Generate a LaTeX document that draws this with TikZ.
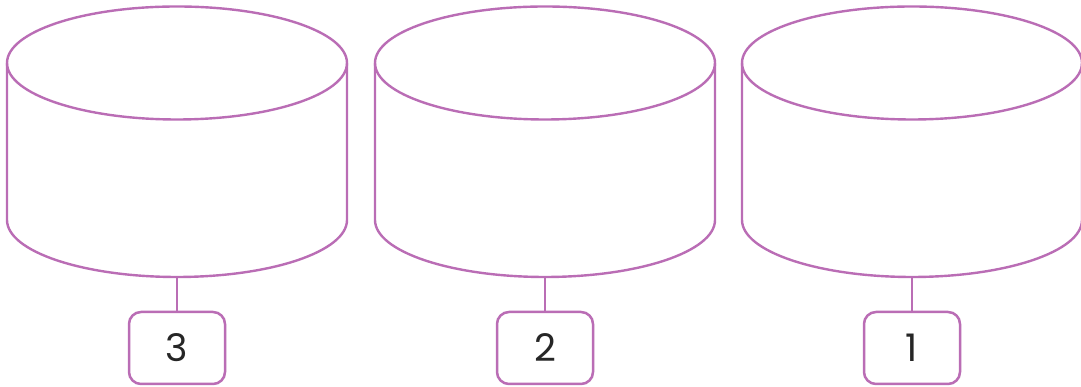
\documentclass[tikz,border=0pt]{standalone}
\usepackage{fontspec}
\setmainfont{Poppins}
\usetikzlibrary{positioning, shadows}
\definecolor{DiskPink}{HTML}{BA6DB5}

\begin{document}
\begin{tikzpicture}[x=1pt, y=1pt,
    disk/.style={draw=DiskPink, line width=2.4pt},
    tag/.style={draw=DiskPink, line width=2.5pt, rounded corners=12pt, fill=white,
      minimum width=96pt, minimum height=72pt, inner sep=0pt,
      drop shadow={opacity=0.12, shadow xshift=1pt, shadow yshift=-1pt},
      font=\fontsize{38}{38}\selectfont, text=black!85},
    link/.style={draw=DiskPink, line width=2.4pt}]
    \useasboundingbox (0,0) rectangle (1081,387);

    % Disks with their tags
    \foreach \n/\cx in {3/177, 2/545, 1/912} {
        \draw[disk] (\cx,324) ellipse [x radius=170, y radius=56.5];
        \draw[disk] (\cx-170,324) -- (\cx-170,167)
            arc [start angle=180, end angle=360, x radius=170, y radius=57] -- (\cx+170,324);
        \coordinate (disk\n) at (\cx,110);
        \node[tag] (tag\n) at (\cx,39) {\n};
        \draw[link] (disk\n) -- (tag\n);
    }
\end{tikzpicture}
\end{document}
